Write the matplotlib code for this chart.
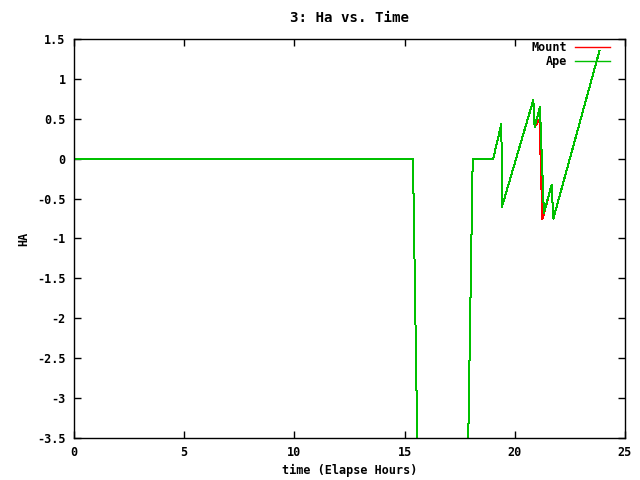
import matplotlib
matplotlib.use("Agg")
import matplotlib.pyplot as plt
from matplotlib.ticker import FuncFormatter, MultipleLocator

# elapsed hours / hour angle
ape_time = [0, 15.38, 15.60, 17.86, 18.09, 19.02, 19.39, 19.42, 20.84, 20.90,
            21.14, 21.32, 21.67, 21.75, 23.84]
ape_ha = [0, 0, -4.0, -4.0, 0, 0, 0.435, -0.60, 0.735, 0.40,
          0.644, -0.68, -0.33, -0.75, 1.35]

mount_time = [0, 15.38, 15.60, 17.86, 18.09, 19.02, 19.39, 19.42, 20.84, 20.90,
              21.12, 21.25, 21.67, 21.75, 21.82, 23.84]
mount_ha = [0, 0, -4.0, -4.0, 0, 0, 0.435, -0.60, 0.735, 0.40,
            0.49, -0.76, -0.33, -0.75, -0.68, 1.35]

plt.rcParams['font.family'] = 'DejaVu Sans Mono'
plt.rcParams['font.weight'] = 'bold'
plt.rcParams['font.size'] = 8.5

fig = plt.figure(figsize=(6.4, 4.8), dpi=100)
ax = fig.add_axes([74 / 640, 42 / 480, 551 / 640, 399 / 480])

# gnuplot png output is not antialiased, so the overlapping lines stay pure
ax.plot(mount_time, mount_ha, color='#ff0000', lw=0.72, label='Mount',
        antialiased=False)
ax.plot(ape_time, ape_ha, color='#00c000', lw=0.72, label='Ape',
        antialiased=False)

ax.set_xlim(0, 25)
ax.set_ylim(-3.5, 1.5)
ax.xaxis.set_major_locator(MultipleLocator(5))
ax.yaxis.set_major_locator(MultipleLocator(0.5))
fmt = FuncFormatter(lambda v, p: '%g' % v)
ax.xaxis.set_major_formatter(fmt)
ax.yaxis.set_major_formatter(fmt)
ax.tick_params(direction='in', top=True, right=True, length=5, width=1, pad=6)
for s in ax.spines.values():
    s.set_linewidth(1)

ax.set_xlabel('time (Elapse Hours)', fontweight='bold', labelpad=3)
ax.set_ylabel('HA', fontweight='bold', labelpad=5)
ax.set_title('3: Ha vs. Time', fontweight='bold', pad=12)

leg = ax.legend(loc='upper right', bbox_to_anchor=(610 / 640, 439 / 480),
                bbox_transform=fig.transFigure, frameon=False, markerfirst=False,
                handlelength=3.0, handletextpad=0.6, labelspacing=0.1,
                borderpad=0, borderaxespad=0, fontsize=8.5)
for line in leg.get_lines():
    line.set_linewidth(1.0)
    line.set_antialiased(True)

fig.savefig('out.png', dpi=100)
